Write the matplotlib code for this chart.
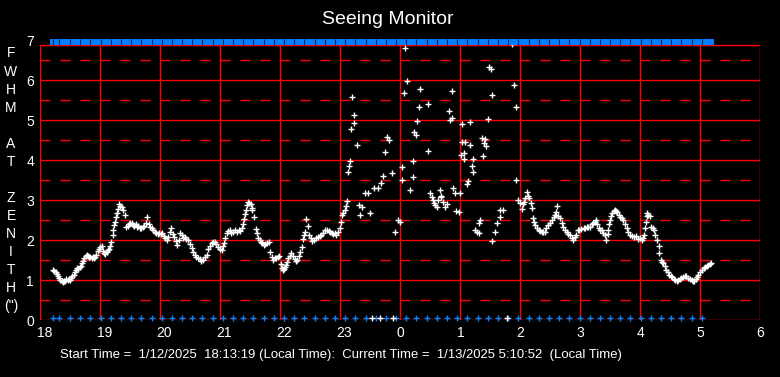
import numpy as np
import matplotlib
matplotlib.use('Agg')
import matplotlib.pyplot as plt
import matplotlib.transforms as mtransforms

plt.rcParams['font.family'] = ['Liberation Sans', 'DejaVu Sans']
plt.rcParams['lines.scale_dashes'] = False

# ---------------- data ----------------
# hours on a continuous axis: 18..24 = evening, 24..30 = 0..6 next day
fwhm_times = [
    18.22, 18.24, 18.26, 18.28, 18.30, 18.32, 18.34, 18.36, 18.38, 18.40,
    18.42, 18.44, 18.46, 18.48, 18.50, 18.52, 18.54, 18.56, 18.58, 18.60,
    18.62, 18.64, 18.66, 18.68, 18.70, 18.72, 18.74, 18.76, 18.78, 18.80,
    18.82, 18.84, 18.86, 18.88, 18.90, 18.92, 18.94, 18.96, 18.98, 19.00,
    19.03, 19.05, 19.07, 19.09, 19.11, 19.13, 19.15, 19.17, 19.19, 19.21,
    19.22, 19.24, 19.25, 19.27, 19.28, 19.30, 19.32, 19.34, 19.37, 19.39,
    19.41, 19.44, 19.46, 19.48, 19.50, 19.53, 19.55, 19.57, 19.60, 19.62,
    19.64, 19.67, 19.69, 19.71, 19.74, 19.77, 19.79, 19.81, 19.84, 19.86,
    19.88, 19.91, 19.93, 19.96, 19.98, 20.01, 20.03, 20.06, 20.08, 20.11,
    20.13, 20.16, 20.18, 20.21, 20.23, 20.26, 20.28, 20.31, 20.33, 20.36,
    20.39, 20.41, 20.44, 20.47, 20.50, 20.53, 20.55, 20.58, 20.60, 20.63,
    20.66, 20.69, 20.72, 20.75, 20.78, 20.80, 20.83, 20.86, 20.89, 20.92,
    20.94, 20.97, 21.00, 21.03, 21.05, 21.07, 21.09, 21.11, 21.14, 21.17,
    21.19, 21.22, 21.25, 21.28, 21.31, 21.34, 21.36, 21.38, 21.40, 21.42,
    21.43, 21.45, 21.47, 21.49, 21.51, 21.53, 21.54, 21.57, 21.60, 21.62,
    21.64, 21.66, 21.68, 21.70, 21.73, 21.75, 21.78, 21.81, 21.84, 21.87,
    21.89, 21.92, 21.94, 21.96, 21.98, 22.01, 22.03, 22.05, 22.07, 22.09,
    22.10, 22.12, 22.14, 22.17, 22.19, 22.22, 22.25, 22.27, 22.29, 22.31,
    22.33, 22.36, 22.38, 22.40, 22.42, 22.44, 22.46, 22.49, 22.51, 22.54,
    22.57, 22.60, 22.63, 22.66, 22.69, 22.72, 22.75, 22.78, 22.81, 22.83,
    22.86, 22.89, 22.92, 22.94, 22.97, 23.00, 23.02, 23.03, 23.05, 23.08,
    23.10, 23.12,
    23.14, 23.15, 23.17, 23.19, 23.20, 23.23, 23.24, 23.29, 23.31, 23.33,
    23.36, 23.42, 23.46, 23.50, 23.53, 23.57, 23.63, 23.67, 23.69, 23.72,
    23.75, 23.79, 23.82, 23.86, 23.89, 23.92, 23.96, 24.00, 24.03, 24.04,
    24.06, 24.08, 24.12, 24.17, 24.21, 24.22, 24.24, 24.26, 24.29, 24.31,
    24.33, 24.46, 24.47, 24.50, 24.53, 24.55, 24.57, 24.59, 24.61, 24.63,
    24.66, 24.68, 24.69, 24.72, 24.75, 24.78, 24.82, 24.83, 24.86, 24.87,
    24.89, 24.92, 24.94, 24.98, 25.00, 25.01, 25.03, 25.04, 25.06, 25.07,
    25.08, 25.11, 25.14, 25.16, 25.17, 25.20, 25.21, 25.22, 25.25, 25.28,
    25.31, 25.32, 25.33, 25.36, 25.39, 25.40, 25.42, 25.44, 25.47, 25.49,
    25.51, 25.53, 25.54, 25.58, 25.61, 25.66, 25.67, 25.71, 25.78, 25.86,
    25.90, 25.93, 25.94, 25.97,
    26.00, 26.03, 26.05, 26.06, 26.08, 26.11, 26.13, 26.15, 26.18, 26.20,
    26.21, 26.23, 26.25, 26.28, 26.31, 26.33, 26.36, 26.39, 26.42, 26.44,
    26.47, 26.50, 26.53, 26.56, 26.58, 26.60, 26.62, 26.64, 26.67, 26.70,
    26.72, 26.75, 26.78, 26.80, 26.83, 26.86, 26.89, 26.92, 26.94, 26.97,
    26.99, 27.02, 27.06, 27.08, 27.11, 27.14, 27.17, 27.20, 27.22, 27.25,
    27.27, 27.29, 27.31, 27.34, 27.36, 27.39, 27.42, 27.44, 27.46, 27.47,
    27.49, 27.50, 27.52, 27.54, 27.56, 27.58, 27.60, 27.62, 27.65, 27.67,
    27.70, 27.72, 27.75, 27.78, 27.80, 27.83, 27.86, 27.90, 27.93, 27.97,
    28.00, 28.03, 28.05, 28.07, 28.09, 28.10, 28.11, 28.12, 28.14, 28.17,
    28.19, 28.21, 28.23, 28.25, 28.28, 28.31, 28.32, 28.35, 28.37, 28.39,
    28.41, 28.44, 28.46, 28.49, 28.51, 28.53, 28.56, 28.58, 28.61, 28.64,
    28.67, 28.69, 28.72, 28.75, 28.77, 28.80, 28.83, 28.86, 28.88, 28.90,
    28.93, 28.95, 28.97, 29.00, 29.03, 29.06, 29.08, 29.11, 29.14, 29.17,
    29.19,
]
fwhm_values = [
    1.25, 1.22, 1.20, 1.15, 1.10, 1.05, 1.00, 0.98, 0.95, 0.97,
    0.98, 1.02, 1.00, 1.03, 1.00, 1.05, 1.10, 1.12, 1.20, 1.25,
    1.30, 1.28, 1.32, 1.35, 1.42, 1.48, 1.55, 1.60, 1.62, 1.60,
    1.58, 1.57, 1.55, 1.58, 1.54, 1.57, 1.62, 1.72, 1.78, 1.82,
    1.85, 1.72, 1.68, 1.65, 1.70, 1.75, 1.78, 1.85, 1.96, 2.12,
    2.25, 2.38, 2.45, 2.58, 2.67, 2.78, 2.90, 2.86, 2.83, 2.75,
    2.62, 2.33, 2.35, 2.40, 2.42, 2.42, 2.38, 2.36, 2.40, 2.33,
    2.35, 2.30, 2.29, 2.33, 2.36, 2.42, 2.57, 2.40, 2.33, 2.29,
    2.25, 2.20, 2.17, 2.15, 2.18, 2.16, 2.17, 2.10, 2.05, 2.00,
    2.08, 2.20, 2.29, 2.15, 2.08, 1.97, 1.87, 2.00, 2.17, 2.12,
    2.04, 2.08, 2.02, 2.00, 1.90, 1.79, 1.70, 1.62, 1.58, 1.54,
    1.52, 1.48, 1.50, 1.57, 1.62, 1.78, 1.86, 1.92, 1.95, 1.96,
    1.90, 1.83, 1.78, 1.75, 1.85, 1.93, 2.05, 2.17, 2.22, 2.25,
    2.18, 2.21, 2.26, 2.20, 2.25, 2.22, 2.29, 2.40, 2.52, 2.65,
    2.75, 2.88, 2.96, 2.92, 2.90, 2.80, 2.75, 2.57, 2.27, 2.17,
    2.05, 2.00, 1.95, 1.92, 1.88, 1.90, 1.93, 1.96, 1.71, 1.58,
    1.50, 1.55, 1.54, 1.58, 1.60, 1.40, 1.29, 1.25, 1.27, 1.32,
    1.37, 1.45, 1.54, 1.60, 1.67, 1.60, 1.52, 1.48, 1.50, 1.60,
    1.71, 1.83, 2.02, 2.12, 2.21, 2.52, 2.35, 2.12, 2.05, 1.97,
    2.00, 2.04, 2.07, 2.10, 2.12, 2.18, 2.25, 2.25, 2.22, 2.21,
    2.17, 2.15, 2.17, 2.12, 2.20, 2.29, 2.45, 2.62, 2.68, 2.75,
    2.85, 2.97,
    3.69, 3.86, 3.97, 4.77, 5.58, 5.12, 4.93, 4.37, 2.87, 2.62,
    2.83, 3.17, 3.17, 2.68, 0.00, 3.29, 3.29, 0.00, 3.43, 3.61,
    4.19, 4.57, 4.50, 3.67, 0.00, 2.19, 2.50, 2.46, 3.50, 3.83,
    5.67, 6.79, 5.98, 3.25, 3.57, 3.98, 4.71, 4.62, 4.98, 5.33,
    5.77, 5.40, 4.22, 3.17, 3.08, 3.00, 2.92, 2.88, 2.83, 3.00,
    3.25, 3.10, 3.08, 2.95, 2.83, 2.90, 5.23, 5.00, 5.06, 5.73,
    3.29, 3.17, 2.73, 2.71, 3.17, 4.13, 4.89, 4.44, 4.03, 4.18,
    4.44, 3.40, 3.48, 4.94, 4.37, 3.86, 4.03, 3.69, 2.25, 2.20,
    2.17, 2.42, 2.50, 4.54, 4.09, 4.42, 4.53, 4.35, 5.02, 6.32,
    6.27, 5.62, 1.97, 2.19, 2.42, 2.57, 2.75, 2.75, 0.00, 6.90,
    5.87, 5.33, 3.50, 3.00,
    2.92, 2.77, 2.90, 2.96, 3.05, 3.19, 3.10, 3.04, 2.92, 2.79,
    2.54, 2.45, 2.37, 2.30, 2.25, 2.22, 2.19, 2.20, 2.21, 2.30,
    2.37, 2.42, 2.50, 2.58, 2.62, 2.70, 2.85, 2.60, 2.54, 2.42,
    2.33, 2.25, 2.21, 2.15, 2.12, 2.05, 2.00, 2.08, 2.12, 2.25,
    2.25, 2.28, 2.29, 2.30, 2.33, 2.33, 2.33, 2.40, 2.42, 2.45,
    2.50, 2.40, 2.29, 2.25, 2.25, 2.18, 2.12, 2.00, 2.15, 2.25,
    2.40, 2.50, 2.60, 2.67, 2.72, 2.75, 2.73, 2.71, 2.62, 2.58,
    2.55, 2.50, 2.40, 2.29, 2.20, 2.12, 2.10, 2.07, 2.10, 2.02,
    2.05, 2.00, 2.05, 2.12, 2.30, 2.46, 2.60, 2.67, 2.63, 2.60,
    2.33, 2.30, 2.25, 2.12, 2.00, 1.85, 1.67, 1.50, 1.45, 1.42,
    1.35, 1.25, 1.20, 1.13, 1.10, 1.08, 1.02, 1.00, 0.98, 1.00,
    1.02, 1.04, 1.08, 1.10, 1.10, 1.05, 1.02, 1.00, 0.98, 0.98,
    1.02, 1.08, 1.12, 1.20, 1.25, 1.29, 1.32, 1.35, 1.37, 1.40,
    1.42,
]

# status marks along the bottom (and notches of the top band)
mark_times = [
    18.22, 18.32,
    18.500, 18.670, 18.840, 19.009, 19.179, 19.349, 19.519, 19.689, 19.859,
    20.028, 20.198, 20.368, 20.538, 20.708, 20.878, 21.047, 21.217, 21.387,
    21.557, 21.727, 21.897, 22.066, 22.236, 22.406, 22.576, 22.746, 22.916,
    23.085, 23.255, 23.425, 23.595, 23.765, 23.935, 24.104, 24.274, 24.444,
    24.614, 24.784, 24.954, 25.123, 25.293, 25.463, 25.633, 25.803, 25.973,
    26.142, 26.312, 26.482, 26.652, 26.822, 26.992, 27.161, 27.331, 27.501,
    27.671, 27.841, 28.011, 28.180, 28.350, 28.520, 28.690, 28.860, 29.030,
]

x_ticks = [18, 19, 20, 21, 22, 23, 24, 25, 26, 27, 28, 29, 30]
x_tick_labels = ["18", "19", "20", "21", "22", "23", "0", "1", "2", "3", "4", "5", "6"]
y_ticks = [0, 1, 2, 3, 4, 5, 6, 7]
solid_levels = [1, 2, 3, 4, 5, 6]
dash_levels = [0.5, 1.5, 2.5, 3.5, 4.5, 5.5, 6.5]

title = "Seeing Monitor"
footer = ("Start Time =  1/12/2025  18:13:19 (Local Time):  Current Time =  "
          "1/13/2025 5:10:52  (Local Time)")
ylabel_letters = ["F", "W", "H", "M", "A", "T", "Z", "E", "N", "I", "T", "H", "(\")"]
ylabel_rows_px = [53, 72, 90, 108, 144, 162, 198, 216, 234, 252, 270, 288, 306]

# ---------------- style ----------------
W, H = 780, 377
RED = "#FF0000"
BLUE = "#0A84FF"
FRAME_TOP = 6.875
BAND_Y = 6.94
FLOOR = 0.06
LW = 1.0

fig = plt.figure(figsize=(W / 100, H / 100), dpi=100, facecolor="black")
ax = fig.add_axes([40 / W, (H - 320) / H, 720 / W, 280 / H])
ax.set_facecolor("black")
ax.set_xlim(18, 30)
ax.set_ylim(0, 7)
for s in ax.spines.values():
    s.set_visible(False)

# grid / frame
for lv in dash_levels:
    ax.axhline(lv, color=RED, lw=LW, ls=(0, (7.2, 7.2)), zorder=1)
for lv in [0] + solid_levels + [FRAME_TOP]:
    ax.axhline(lv, color=RED, lw=LW, zorder=1)
ax.vlines(x_ticks, 0, FRAME_TOP, colors=RED, lw=LW, zorder=1)

# data
t = np.array(fwhm_times)
v = np.array(fwhm_values)
ax.plot(t, np.maximum(v, FLOOR), ls="none", marker="+", color="white",
        ms=5, mew=1.0, zorder=4, clip_on=False)

# bottom status marks
ax.plot(mark_times, [FLOOR] * len(mark_times), ls="none", marker="+",
        color=BLUE, ms=5, mew=1.0, zorder=3, clip_on=False)
# top status band
ax.plot([t.min(), t.max()], [BAND_Y, BAND_Y], color="#0080FF", lw=4.3,
        solid_capstyle="projecting", zorder=5, clip_on=False)
ax.plot(mark_times, [BAND_Y] * len(mark_times), ls="none", marker="|",
        color="#00284F", ms=4.3, mew=0.8, zorder=6, clip_on=False)

# ticks
ax.set_xticks(x_ticks)
ax.set_xticklabels(x_tick_labels)
ax.set_yticks(y_ticks)
ax.set_yticklabels([str(y) for y in y_ticks])
ax.tick_params(axis="both", length=0, colors="white", labelsize=10)
ax.tick_params(axis="x", pad=4.3)
ax.tick_params(axis="y", pad=4.3)
off = mtransforms.ScaledTranslation(-3.5 / 100, 0, fig.dpi_scale_trans)
for lbl in ax.get_xticklabels():
    lbl.set_horizontalalignment("left")
    lbl.set_transform(lbl.get_transform() + off)

# y label letters
for letter, ypx in zip(ylabel_letters, ylabel_rows_px):
    fig.text(11 / W, 1 - ypx / H, letter, color="white", fontsize=10,
             ha="center", va="center")

fig.text(387.5 / W, 1 - 20 / H, title, color="white", fontsize=14,
         ha="center", va="center")
fig.text(341 / W, 1 - 355 / H, footer, color="white", fontsize=9.45,
         ha="center", va="center")

fig.savefig("out.png", dpi=100, facecolor="black")
